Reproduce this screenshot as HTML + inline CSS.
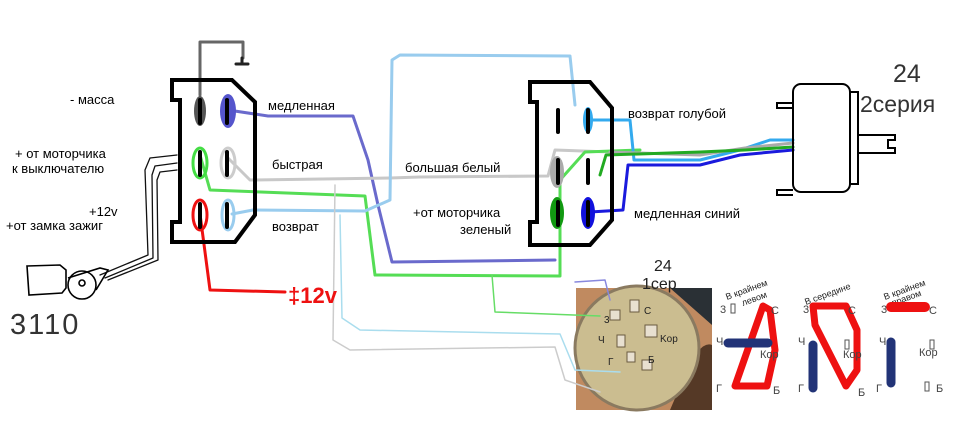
<!DOCTYPE html>
<html><head><meta charset="utf-8"><style>
html,body{margin:0;padding:0;background:#fff}
svg{display:block}
text{font-family:"Liberation Sans",sans-serif}
</style></head><body>
<svg width="960" height="441" viewBox="0 0 960 441" xmlns="http://www.w3.org/2000/svg">
<rect width="960" height="441" fill="#fff"/>
<!-- photo -->
<rect x="576" y="288" width="136" height="122" fill="#c08a60"/>
<path d="M670 288 L712 288 L712 325 Z" fill="#2a3035"/>
<path d="M685 375 Q700 340 712 345 L712 410 L670 410 Z" fill="#3a2418" opacity="0.8"/>
<circle cx="637" cy="348" r="62" fill="#cbbd90" stroke="#8a7a60" stroke-width="3"/>
<g fill="#e8e0d0" stroke="#6a5a40" stroke-width="1">
<rect x="630" y="300" width="9" height="12"/><rect x="610" y="310" width="10" height="10"/>
<rect x="645" y="325" width="12" height="12"/><rect x="617" y="335" width="8" height="12"/>
<rect x="627" y="352" width="8" height="10"/><rect x="642" y="360" width="10" height="10"/></g>
<g font-size="10" fill="#222"><text x="604" y="323">3</text><text x="644" y="314">C</text><text x="598" y="343">Ч</text><text x="660" y="342">Kор</text><text x="608" y="365">Г</text><text x="648" y="363">Б</text></g>
<!-- wires -->
<g fill="none" stroke-linecap="round" stroke-linejoin="round">
<path d="M200 95 L200 42 L243 42 L243 58" stroke="#666" stroke-width="3"/>
<path d="M236 64 L248 64 M242 58 L242 64" stroke="#222" stroke-width="3"/>
<path d="M228 110 L268 116 L353 116 L368 160 L378 205 L392 262 L555 260" stroke="#6a6acc" stroke-width="3"/>
<path d="M228 158 L250 180 L390 178 L420 177 L548 176 L555 150 L610 152" stroke="#c8c8c8" stroke-width="3"/>
<path d="M200 155 L210 190 L365 196 L375 275 L560 276 L560 180 L585 152 L640 150" stroke="#55dd55" stroke-width="3"/>
<path d="M232 214 L253 210 L365 211 L390 200 L392 60 L400 55 L570 56 L575 105" stroke="#99ccee" stroke-width="3"/>
<path d="M340 215 L342 318 L360 330 L560 334 L575 370 L620 372" stroke="#aaddee" stroke-width="1.5"/>
<path d="M335 185 L333 340 L350 350 L555 347 L565 380 L600 392" stroke="#cccccc" stroke-width="1.5"/>
<path d="M492 275 L495 312 L600 316" stroke="#66dd66" stroke-width="1.5"/>
<path d="M575 282 L605 280 L610 300" stroke="#8888dd" stroke-width="1.5"/>
<path d="M590 120 L630 120 L634 160 L700 160 L740 150 L770 140 L793 140" stroke="#33aaee" stroke-width="3"/>
<path d="M610 152 L700 155 L745 148 L793 143" stroke="#aaaaaa" stroke-width="3"/>
<path d="M600 175 L606 155 L700 152 L745 150 L793 147" stroke="#22aa22" stroke-width="3"/>
<path d="M590 212 L623 210 L628 165 L700 165 L740 155 L793 150" stroke="#1a1add" stroke-width="3"/>
<path d="M200 214 L210 290 L285 292" stroke="#ee1111" stroke-width="3"/>
<path d="M177 155 L150 158 L145 170 L148 255 L100 275 M177 163 L155 166 L152 175 L153 258 L105 278 M177 170 L160 172 L157 180 L158 260 L108 280" stroke="#111" stroke-width="1.3"/>
</g>
<!-- left connector -->
<path d="M172 80 L232 80 L255 102 L255 215 L235 242 L172 242 L172 222 L180 222 L180 100 L172 100 Z" fill="none" stroke="#000" stroke-width="4"/>
<g stroke-linecap="round">
<ellipse cx="200" cy="111" rx="6" ry="15" fill="#555"/><ellipse cx="228" cy="111" rx="8" ry="17" fill="#5555cc"/>
<ellipse cx="200" cy="163" rx="7" ry="15" fill="none" stroke="#44dd44" stroke-width="3"/><ellipse cx="228" cy="163" rx="7" ry="15" fill="none" stroke="#ccc" stroke-width="3"/>
<ellipse cx="200" cy="215" rx="7" ry="15" fill="none" stroke="#ee1111" stroke-width="3"/><ellipse cx="228" cy="215" rx="6" ry="15" fill="none" stroke="#99ccee" stroke-width="3"/>
<g stroke="#000" stroke-width="4"><path d="M200 100V123M227 100V123M200 152V175M227 152V175M200 204V227M227 204V227"/></g></g>
<!-- right connector -->
<path d="M530 82 L590 82 L612 108 L612 220 L590 245 L530 245 L530 222 L537 222 L537 102 L530 102 Z" fill="none" stroke="#000" stroke-width="4"/>
<ellipse cx="557" cy="172" rx="7" ry="16" fill="#aaa"/>
<ellipse cx="557" cy="213" rx="7" ry="16" fill="#119911"/><ellipse cx="588" cy="213" rx="7" ry="16" fill="#1111dd"/>
<ellipse cx="588" cy="120" rx="5" ry="13" fill="#33aaee"/>
<g stroke="#000" stroke-width="4" stroke-linecap="round"><path d="M558 110V132M588 110V132M558 160V183M588 160V183M558 202V225M588 202V225"/></g>
<!-- motor -->
<g fill="none" stroke="#000" stroke-width="2">
<rect x="793" y="84" width="57" height="108" rx="8"/><rect x="850" y="92" width="8" height="92"/>
<path d="M858 135 L895 135 L895 140 L888 140 L888 148 L895 148 L895 153 L858 153"/>
<path d="M793 103 L777 103 L777 108 L793 108 M793 190 L777 190 L777 195 L793 195"/></g>
<!-- 3110 -->
<g fill="none" stroke="#000" stroke-width="1.6">
<path d="M27 266 L60 265 L66 270 L66 288 L62 293 L29 295 Z"/><circle cx="82" cy="285" r="14"/><circle cx="82" cy="283" r="3"/>
<path d="M68 278 L100 268 L108 270 L96 290"/></g>
<text x="10" y="334" font-size="29" fill="#333" letter-spacing="2">3110</text>
<text x="288" y="303" font-size="22" fill="#ee1111" font-weight="bold">‡12v</text>
<!-- labels -->
<g font-size="13" fill="#000">
<text x="70" y="104">- масса</text>
<text x="15" y="158">+ от моторчика</text><text x="12" y="173">к выключателю</text>
<text x="89" y="216">+12v</text><text x="6" y="230">+от замка зажиг</text>
<text x="268" y="110">медленная</text><text x="272" y="169">быстрая</text><text x="272" y="231">возврат</text>
<text x="405" y="172">большая белый</text><text x="413" y="217">+от моторчика</text><text x="460" y="234">зеленый</text>
<text x="628" y="118">возврат голубой</text><text x="634" y="218">медленная синий</text>
</g>
<text x="893" y="82" font-size="25" fill="#333">24</text>
<text x="860" y="112" font-size="23" fill="#333">2серия</text>
<text x="654" y="271" font-size="16" fill="#222">24</text>
<text x="642" y="289" font-size="16" fill="#222">1сер</text>
<!-- switch diagrams -->
<g font-size="9" fill="#222">
<text transform="translate(727,300) rotate(-20)">В крайнем</text><text transform="translate(743,306) rotate(-20)">левом</text>
<text transform="translate(806,305) rotate(-20)">В середине</text>
<text transform="translate(885,300) rotate(-20)">В крайнем</text><text transform="translate(893,306) rotate(-20)">правом</text>
</g>
<g fill="none" stroke-linecap="round" stroke-linejoin="round">
<path d="M763 306 L735 386 L767 386 L775 350 L770 310 Z" stroke="#ee1111" stroke-width="7"/>
<path d="M728 343 L768 343" stroke="#223377" stroke-width="9"/>
<path d="M813 306 L846 306 L857 330 L857 370 L846 386 L815 325 Z" stroke="#ee1111" stroke-width="7"/>
<path d="M813 345 L813 388" stroke="#223377" stroke-width="9"/>
<path d="M891 307 L925 307" stroke="#ee1111" stroke-width="10"/>
<path d="M891 342 L891 383" stroke="#223377" stroke-width="9"/>
</g>
<g font-size="11" fill="#444">
<text x="720" y="313">3</text><text x="771" y="314">С</text><text x="716" y="345">Ч</text><text x="760" y="358">Кор</text><text x="716" y="392">Г</text><text x="773" y="394">Б</text>
<text x="803" y="313">3</text><text x="848" y="314">С</text><text x="798" y="345">Ч</text><text x="843" y="358">Кор</text><text x="798" y="392">Г</text><text x="858" y="396">Б</text>
<text x="881" y="313">3</text><text x="929" y="314">С</text><text x="879" y="345">Ч</text><text x="919" y="356">Кор</text><text x="876" y="392">Г</text><text x="936" y="392">Б</text>
</g>
<g fill="none" stroke="#555" stroke-width="1">
<rect x="731" y="304" width="4" height="9"/><rect x="930" y="340" width="4" height="9"/><rect x="925" y="382" width="4" height="9"/><rect x="845" y="340" width="4" height="9"/>
</g>
</svg>
</body></html>
